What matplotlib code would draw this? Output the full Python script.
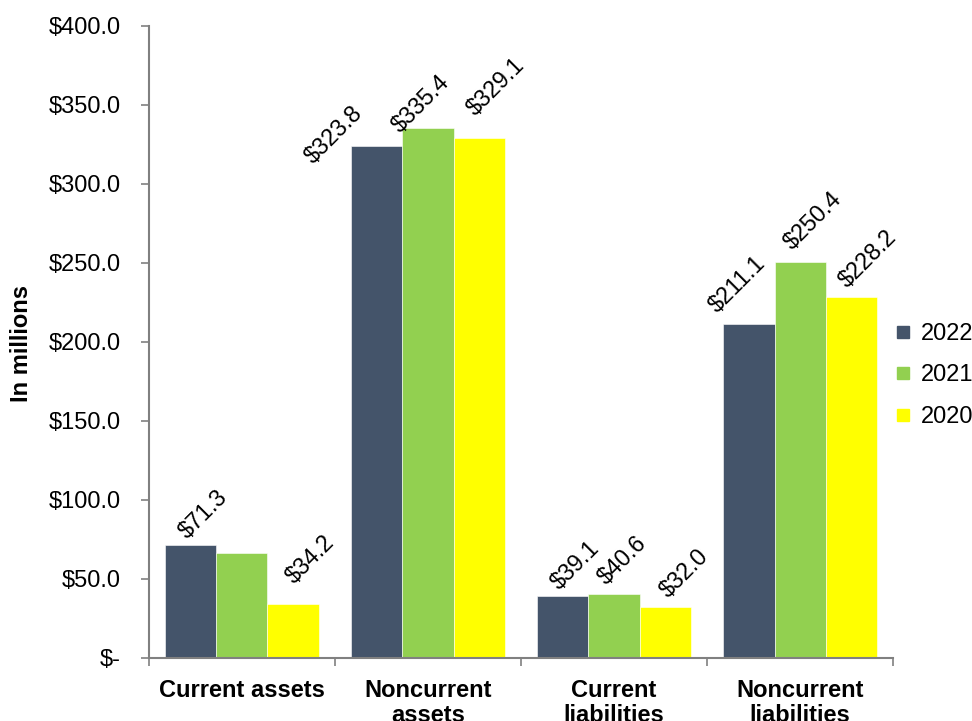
import matplotlib.pyplot as plt
from matplotlib.lines import Line2D
import numpy as np

plt.rcParams['font.family'] = ['Liberation Sans', 'DejaVu Sans']

categories = ['Current assets', 'Noncurrent\nassets', 'Current\nliabilities', 'Noncurrent\nliabilities']
years = ['2022', '2021', '2020']
values = {
    '2022': [71.3, 323.8, 39.1, 211.1],
    '2021': [66.5, 335.4, 40.6, 250.4],
    '2020': [34.2, 329.1, 32.0, 228.2],
}
# the 2021 current assets bar carries no value label
labels = {
    '2022': ['$71.3', '$323.8', '$39.1', '$211.1'],
    '2021': [None, '$335.4', '$40.6', '$250.4'],
    '2020': ['$34.2', '$329.1', '$32.0', '$228.2'],
}
colors = {'2022': '#44546A', '2021': '#92D050', '2020': '#FFFF00'}

# label nudges in pixels (dx, dy) from the top centre of each bar
nudges = {
    '2022': [(13, 2), (-43, -22), (12, 2), (-12, 7)],
    '2021': [(0, 0), (-7, -9), (8, 5), (13, 8)],
    '2020': [(17, 16), (17, 18), (19, 5), (16, 5)],
}

fig = plt.figure(figsize=(9.72, 7.21), dpi=100)
ax = fig.add_axes([0.153, 0.0874, 0.766, 0.877])

x = np.arange(len(categories))
w = 0.275
for i, yr in enumerate(years):
    pos = x + (i - 1) * w
    ax.bar(pos, values[yr], w, color=colors[yr], edgecolor='white', linewidth=0.4, label=yr)
    for p, v, lab, (dx, dy) in zip(pos, values[yr], labels[yr], nudges[yr]):
        if lab is None:
            continue
        ax.annotate(lab, (p, v), xytext=(dx, dy), textcoords='offset pixels',
                    rotation=45, ha='center', va='bottom', fontsize=16.8)

ax.set_xlim(-0.5, 3.5)
ax.set_ylim(0, 400)
ax.set_yticks(np.arange(0, 401, 50))
ax.set_yticklabels(['$-'] + ['${:.1f}'.format(t) for t in np.arange(50, 401, 50)], fontsize=17)
ax.set_ylabel('In millions', fontsize=17, fontweight='bold')
ax.yaxis.set_label_coords(-0.156, 0.497)

ax.set_xticks(x)
ax.set_xticklabels(categories, fontsize=17, fontweight='bold', linespacing=1.1)
ax.set_xticks(np.arange(-0.5, 4, 1), minor=True)
ax.tick_params(axis='x', which='major', length=0, pad=15)
ax.tick_params(axis='x', which='minor', length=6, width=1.2, color='#808080')
ax.tick_params(axis='y', length=6, width=1.2, color='#808080', pad=14)

for s in ['top', 'right']:
    ax.spines[s].set_visible(False)
for s in ['left', 'bottom']:
    ax.spines[s].set_color('#808080')
    ax.spines[s].set_linewidth(1.5)

handles = [Line2D([], [], marker='s', linestyle='none', markersize=9,
                  markerfacecolor=colors[yr], markeredgecolor=colors[yr]) for yr in years]
fig.legend(handles, years, loc='upper left', bbox_to_anchor=(0.912, 0.565),
           frameon=False, fontsize=17, handlelength=0.6, handletextpad=0.45,
           labelspacing=0.82, borderaxespad=0)

fig.savefig('out.png', dpi=100)
